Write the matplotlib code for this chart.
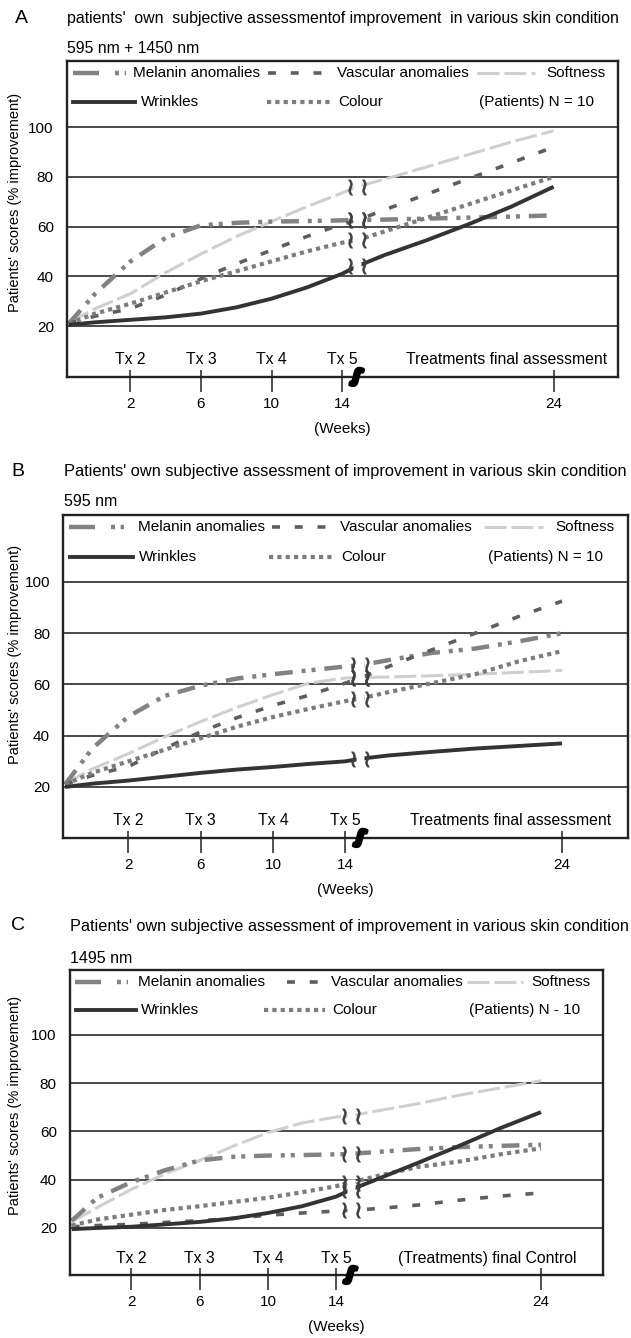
import matplotlib
matplotlib.use("Agg")
import matplotlib.pyplot as plt
import matplotlib.patheffects as pe
import numpy as np

plt.rcParams['font.family'] = ['Liberation Sans', 'DejaVu Sans']

FIG_W, FIG_H = 631, 1338

# shared x values (weeks); -1.5 is the baseline visit at the left edge
weeks = [-1.5, 0, 2, 4, 6, 8, 10, 12, 14, 14.7, 16, 18, 20, 22, 24]
break_week = 14.7
tick_weeks = [2, 6, 10, 14, 24]
tx_labels = ["Tx 2", "Tx 3", "Tx 4", "Tx 5"]
y_ticks = [20, 40, 60, 80, 100]

# panel A: 595 nm + 1450 nm
melanin_a = [21, 33, 46, 55.5, 60.5, 61.5, 62, 62.2, 62.5, 62.6, 62.8, 63.2, 63.6, 64, 64.5]
vascular_a = [21, 24, 27, 32.5, 39, 45, 50.5, 56, 61, 62.5, 66.7, 73, 79.3, 85.6, 92]
softness_a = [21.5, 27, 33, 41.5, 49, 56, 62, 68, 73.5, 76, 79, 84, 89, 94, 98.5]
wrinkles_a = [20.5, 21.5, 22.5, 23.5, 25, 27.5, 31, 35.5, 41, 44, 48.5, 54.5, 61, 68, 76]
colour_a = [21, 25, 29, 33.5, 38, 42, 46, 50, 53.5, 54.5, 58, 63.5, 69, 74.5, 80]

# panel B: 595 nm
melanin_b = [21, 35, 47.5, 55.5, 59.5, 62.3, 64, 65.5, 67, 67.5, 69.5, 72.3, 74, 76.8, 80]
vascular_b = [21, 24.5, 28, 35, 41.5, 47, 51.8, 55.8, 60.5, 62.5, 67, 73.5, 80, 86.5, 92.5]
softness_b = [21.5, 27, 33, 39.5, 45.5, 51, 56, 60.5, 62.5, 62.7, 62.9, 63.4, 64, 64.7, 65.5]
wrinkles_b = [20, 21.3, 22.5, 24, 25.5, 26.8, 27.8, 29, 30, 31, 32.3, 33.7, 35, 36, 37]
colour_b = [21, 25.5, 30, 34.5, 39, 43.5, 47.3, 50.5, 53.5, 54.5, 57, 60.5, 64, 69, 73]

# panel C: 1495 nm
melanin_c = [23, 32.5, 39, 44, 48, 49.5, 50, 50.2, 50.5, 50.7, 51.5, 52.7, 53.5, 54, 54.5]
vascular_c = [20.5, 21, 21.5, 22.3, 23, 24, 25.3, 26.2, 27, 27.3, 28, 29.5, 31.5, 33.2, 34.5]
softness_c = [22.5, 28.5, 36, 42.5, 48, 54, 59.5, 63.5, 66, 66.5, 68.5, 71.5, 75, 78, 81]
wrinkles_c = [19.5, 20, 20.5, 21.5, 22.5, 24, 26.2, 29, 33, 35.8, 40.2, 47, 54, 61.3, 68]
colour_c = [21, 23.5, 25.5, 27.5, 29, 30.8, 32.5, 34.8, 37.3, 38.8, 41.5, 45.3, 47.5, 50.5, 53]

styles = {
    "softness": dict(color="#cfcfcf", lw=2.2, dashes=(7.2, 1.6)),
    "melanin": dict(color="#828282", lw=3.2, dashes=(4.0, 2.0, 0.9, 1.35, 0.9, 2.0)),
    "vascular": dict(color="#5e5e5e", lw=2.6, dashes=(2.2, 4.1)),
    "colour": dict(color="#7c7c7c", lw=3.0, dashes=(1, 1)),
    "wrinkles": dict(color="#333333", lw=2.8, ls="-"),
}
order = ["softness", "melanin", "vascular", "colour", "wrinkles"]


def fwd(w):
    w = np.asarray(w, dtype=float)
    return np.where(w <= 14, 0.5 + w / 4, 4 + (w - 14) * 0.3)


def inv(p):
    p = np.asarray(p, dtype=float)
    return np.where(p <= 4, (p - 0.5) * 4, 14 + (p - 4) / 0.3)


def px_rect(left, top, right, bottom):
    return [left / FIG_W, 1 - bottom / FIG_H, (right - left) / FIG_W, (bottom - top) / FIG_H]


def draw_legend(ax, n_label, mel_x, vas_x0):
    tr = ax.transAxes
    y1, y2 = 0.962, 0.869
    ax.plot([0.010, 0.108], [y1, y1], transform=tr, clip_on=False, color=styles["melanin"]["color"],
            lw=3.2, dashes=(5.85, 3.6, 0.9, 1.26, 0.9, 10))
    ax.text(mel_x, y1, "Melanin anomalies", transform=tr, va="center", fontsize=11)
    ax.plot([vas_x0, 0.473], [y1, y1], transform=tr, clip_on=False, **styles["vascular"])
    ax.text(0.490, y1, "Vascular anomalies", transform=tr, va="center", fontsize=11)
    ax.plot([0.745, 0.850], [y1, y1], transform=tr, clip_on=False, **styles["softness"])
    ax.text(0.977, y1, "Softness", transform=tr, va="center", ha="right", fontsize=11)
    ax.plot([0.011, 0.123], [y2, y2], transform=tr, clip_on=False, **styles["wrinkles"])
    ax.text(0.134, y2, "Wrinkles", transform=tr, va="center", fontsize=11)
    ax.plot([0.364, 0.478], [y2, y2], transform=tr, clip_on=False, **styles["colour"])
    ax.text(0.492, y2, "Colour", transform=tr, va="center", fontsize=11)
    ax.text(0.957, y2, n_label, transform=tr, va="center", ha="right", fontsize=11)


def draw_panel(rect, ylim, series, n_label, final_label, final_x, ylab_xy,
               mel_x=0.132, vas_x0=0.370):
    ax = fig.add_axes(rect)
    ax.set_xscale("function", functions=(fwd, inv))
    ax.set_xlim(-1.6, 27.03)
    ax.set_ylim(*ylim)

    for name in order:
        ax.plot(weeks, series[name], solid_capstyle="butt", **styles[name])

    # axis-break marks on every curve
    bi = weeks.index(break_week)
    for name in order:
        y = series[name][bi]
        ax.plot([break_week], [y], marker="s", ms=6, color="white", mec="none", zorder=4)
        ax.plot([break_week], [y], marker=r"$\wr\wr$", ms=13, color="#3f3f3f", mew=0.4, zorder=5)

    ax.set_yticks(y_ticks)
    ax.grid(axis="y", color="#3c3c3c", lw=1.3)
    ax.set_axisbelow(True)
    ax.tick_params(axis="y", length=0, pad=9.5, labelsize=11)

    ax.set_xticks(tick_weeks, labels=[str(w) for w in tick_weeks])
    ax.set_xticks(tick_weeks, minor=True)
    ax.xaxis.remove_overlapping_locs = False
    ax.tick_params(axis="x", which="major", direction="out", length=10.8, width=1.2,
                   pad=3.5, labelsize=11, color="#333")
    ax.tick_params(axis="x", which="minor", direction="in", length=5, width=1.2, color="#333")
    ax.set_xlabel("(Weeks)", fontsize=11, labelpad=8)

    ax.set_ylabel("Patients' scores (% improvement)", fontsize=10.5, va="center")
    ax.yaxis.set_label_coords(*ylab_xy)

    for sp in ax.spines.values():
        sp.set_linewidth(1.7)
        sp.set_color("#222")

    xtr = ax.get_xaxis_transform()
    for w, lab in zip(tick_weeks[:4], tx_labels):
        ax.text(w, 0.054, lab, transform=xtr, ha="center", va="center", fontsize=11.3)
    ax.text(final_x, 0.054, final_label, transform=ax.transAxes, ha="right", va="center",
            fontsize=11.3)
    ax.text(break_week, 0, "ʃ", transform=xtr, ha="center", va="center", fontsize=13,
            fontweight="bold", family="DejaVu Sans", color="black", rotation=-15,
            path_effects=[pe.withStroke(linewidth=3, foreground="black")])

    draw_legend(ax, n_label, mel_x, vas_x0)
    return ax


def fig_text(x, y, s, **kw):
    fig.text(x / FIG_W, 1 - y / FIG_H, s, va="center", **kw)


fig = plt.figure(figsize=(FIG_W / 100, FIG_H / 100), dpi=100)

draw_panel(px_rect(67, 60.7, 617.7, 377), (-0.5, 126.7),
           dict(melanin=melanin_a, vascular=vascular_a, softness=softness_a,
                wrinkles=wrinkles_a, colour=colour_a),
           "(Patients) N = 10", "Treatments final assessment", 0.98, (-0.0944, 0.553),
           mel_x=0.12, vas_x0=0.365)
fig_text(15, 18.3, "A", fontsize=14)
fig_text(67, 18.3, "patients'  own  subjective assessmentof improvement  in various skin condition",
         fontsize=11.4)
fig_text(67, 48.3, "595 nm + 1450 nm", fontsize=11.3)

draw_panel(px_rect(63.3, 515, 627.7, 838), (0.1, 126.1),
           dict(melanin=melanin_b, vascular=vascular_b, softness=softness_b,
                wrinkles=wrinkles_b, colour=colour_b),
           "(Patients) N = 10", "Treatments final assessment", 0.971, (-0.0856, 0.567))
fig_text(11, 471, "B", fontsize=14)
fig_text(64, 471.7, "Patients' own subjective assessment of improvement in various skin condition",
         fontsize=11.8)
fig_text(64, 501.7, "595 nm", fontsize=11.5)

draw_panel(px_rect(70, 970, 603, 1275), (0.5, 126.9),
           dict(melanin=melanin_c, vascular=vascular_c, softness=softness_c,
                wrinkles=wrinkles_c, colour=colour_c),
           "(Patients) N - 10", "(Treatments) final Control", 0.951, (-0.103, 0.555),
           mel_x=0.128, vas_x0=0.408)
fig_text(11, 926, "C", fontsize=14)
fig_text(70, 926.7, "Patients' own subjective assessment of improvement in various skin condition",
         fontsize=11.7)
fig_text(70, 958.3, "1495 nm", fontsize=11.5)

fig.savefig("out.png", dpi=100)
